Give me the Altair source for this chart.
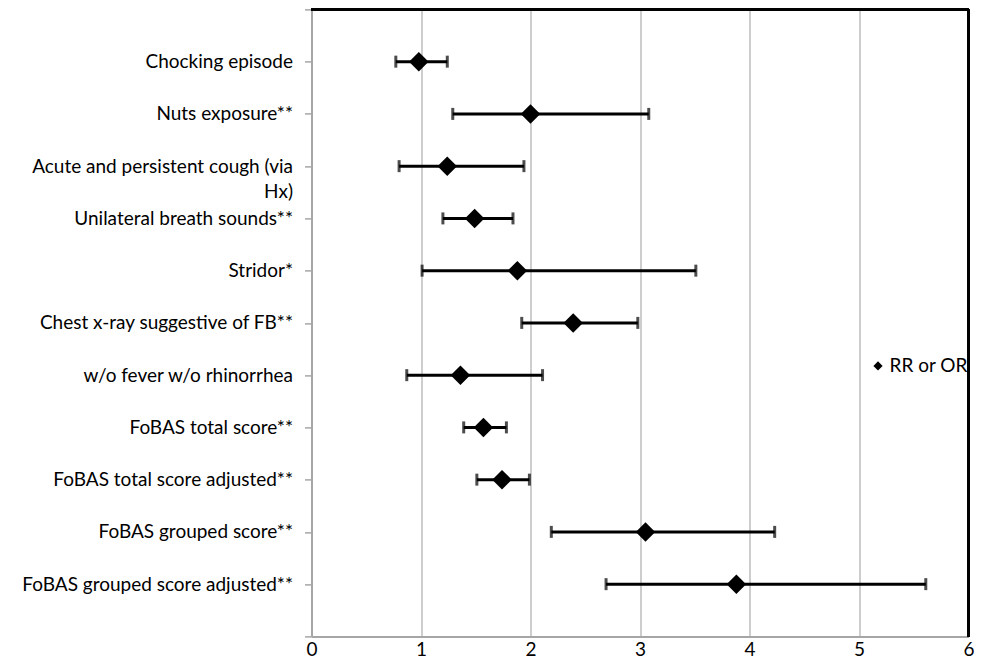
import json
import altair as alt
import pandas as pd

categories = [
    "Chocking episode",
    "Nuts exposure**",
    "Acute and persistent cough (via Hx)",
    "Unilateral breath sounds**",
    "Stridor*",
    "Chest x-ray suggestive of FB**",
    "w/o fever w/o rhinorrhea",
    "FoBAS total score**",
    "FoBAS total score adjusted**",
    "FoBAS grouped score**",
    "FoBAS grouped score adjusted**",
]
label_lines = [
    ["Chocking episode"],
    ["Nuts exposure**"],
    ["Acute and persistent cough (via", "Hx)"],
    ["Unilateral breath sounds**"],
    ["Stridor*"],
    ["Chest x-ray suggestive of FB**"],
    ["w/o fever w/o rhinorrhea"],
    ["FoBAS total score**"],
    ["FoBAS total score adjusted**"],
    ["FoBAS grouped score**"],
    ["FoBAS grouped score adjusted**"],
]
estimate = [0.98, 2.00, 1.24, 1.49, 1.88, 2.39, 1.36, 1.57, 1.74, 3.05, 3.88]
lower = [0.77, 1.29, 0.80, 1.20, 1.01, 1.92, 0.87, 1.39, 1.51, 2.19, 2.69]
upper = [1.24, 3.08, 1.94, 1.84, 3.51, 2.98, 2.11, 1.78, 1.99, 4.23, 5.61]
x_ticks = [0, 1, 2, 3, 4, 5, 6]
series_name = "RR or OR"

n = len(categories)
positions = [n - i for i in range(n)]  # top row at n, bottom at 1
y_ticks = list(range(0, n + 2))
x_min, x_max = x_ticks[0], x_ticks[-1]
y_min, y_max = 0, n + 1

df = pd.DataFrame({
    "category": categories,
    "pos": positions,
    "est": estimate,
    "lo": lower,
    "hi": upper,
    "series": [series_name] * n,
})

# label lookup indexed by axis value
lookup = [""] * (n + 2)
for p, lines in zip(positions, label_lines):
    lookup[p] = lines if len(lines) > 1 else lines[0]
label_expr = json.dumps(lookup) + "[datum.value]"

FONT = "Lato"
FS = 19
GRAY = "#a6a6a6"

x_scale = alt.Scale(domain=[x_min, x_max], nice=False, zero=False)
y_scale = alt.Scale(domain=[y_min, y_max], nice=False, zero=False)

x_axis = alt.Axis(
    values=x_ticks, format="d", grid=True, gridColor="#b3b3b3", gridWidth=1.3,
    domainColor=GRAY, domainWidth=2, ticks=False, labelPadding=4,
    labelFont=FONT, labelFontSize=FS, labelColor="black", title=None,
    labelFlush=False, labelOverlap=False, labelBound=False,
)
y_axis = alt.Axis(
    values=y_ticks, grid=False, labelExpr=label_expr, labelLimit=0,
    domainColor=GRAY, domainWidth=2, tickColor=GRAY, tickSize=7, tickWidth=1.5,
    labelPadding=12, labelFont=FONT, labelFontSize=FS, labelColor="black",
    labelLineHeight=25, labelOverlap=False, labelBound=False, labelFlush=False,
    title=None,
)

base = alt.Chart(df)

bars = base.mark_rule(color="black", strokeWidth=3).encode(
    x=alt.X("lo:Q", scale=x_scale, axis=x_axis),
    x2="hi:Q",
    y=alt.Y("pos:Q", scale=y_scale, axis=y_axis),
)
cap_lo = base.mark_tick(color="black", orient="vertical", size=12, thickness=3).encode(
    x=alt.X("lo:Q", scale=x_scale),
    y=alt.Y("pos:Q", scale=y_scale),
)
cap_hi = base.mark_tick(color="black", orient="vertical", size=12, thickness=3).encode(
    x=alt.X("hi:Q", scale=x_scale),
    y=alt.Y("pos:Q", scale=y_scale),
)
points = base.mark_point(filled=True, color="black", opacity=1, size=380).encode(
    x=alt.X("est:Q", scale=x_scale),
    y=alt.Y("pos:Q", scale=y_scale),
    shape=alt.Shape(
        "series:N",
        scale=alt.Scale(domain=[series_name], range=["diamond"]),
        legend=alt.Legend(
            title=None, orient="none", legendX=557, legendY=347,
            symbolSize=85, symbolFillColor="black", symbolStrokeColor="black",
            symbolStrokeWidth=0, labelFont=FONT, labelFontSize=FS,
            labelColor="black", labelOffset=2, labelLimit=0,
        ),
    ),
)

# black frame on top and right (Excel plot-area border)
frame_top = alt.Chart(df).mark_rule(color="black", strokeWidth=2).encode(
    x=alt.datum(x_min, scale=x_scale), x2=alt.datum(x_max),
    y=alt.datum(y_max, scale=y_scale),
)
frame_right = alt.Chart(df).mark_rule(color="black", strokeWidth=2).encode(
    x=alt.datum(x_max, scale=x_scale),
    y=alt.datum(y_min, scale=y_scale), y2=alt.datum(y_max),
)

chart = (
    alt.layer(bars, cap_lo, cap_hi, points, frame_top, frame_right)
    .properties(
        width=657, height=627,
        autosize=alt.AutoSizeParams(type="none"),
        padding={"left": 303.5, "top": 1.4, "right": 5, "bottom": 26},
    )
    .configure_view(stroke=None)
    .configure(background="white")
)

chart.save("out.html", embed_options={"renderer": "svg", "actions": False})
